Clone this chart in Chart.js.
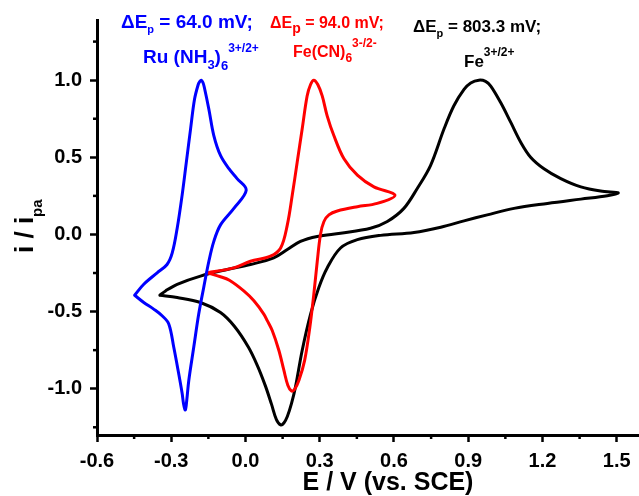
<!DOCTYPE html>
<html>
<head>
<meta charset="utf-8">
<title>Cyclic voltammograms</title>
<script src="https://cdn.jsdelivr.net/npm/chart.js@4.4.1/dist/chart.umd.min.js"></script>
<style>
    html, body { margin: 0; padding: 0; background: #fff; }
    canvas { display: block; }
</style>
</head>
<body>
<canvas id="cvChart" width="639" height="496"></canvas>
<script>
"use strict";

/*---------------------------------------------------
  Data (E in V vs. SCE, current normalised to i_pa)
---------------------------------------------------*/

// Ru(NH3)6 3+/2+  (loop starts at the negative vertex)
var ruE = [-0.448, -0.411, -0.357, -0.317, -0.296, -0.276, -0.256, -0.239, -0.222, -0.206, -0.191, -0.185, -0.179,
    -0.172, -0.166, -0.148, -0.128, -0.101, -0.067, -0.034, 0.003, -0.047, -0.101, -0.128, -0.148, -0.169, -0.189,
    -0.209, -0.229, -0.237, -0.243, -0.250, -0.256, -0.270, -0.290, -0.310, -0.337, -0.371, -0.411, -0.448];
var ruI = [-0.394, -0.323, -0.249, -0.195, -0.120, 0.040, 0.255, 0.469, 0.683, 0.876, 0.972, 0.990, 1.000,
    0.985, 0.951, 0.812, 0.641, 0.512, 0.426, 0.362, 0.287, 0.169, 0.062, -0.045, -0.174, -0.345, -0.516,
    -0.730, -0.945, -1.070, -1.138, -1.100, -1.030, -0.902, -0.730, -0.580, -0.527, -0.484, -0.441, -0.394];

// Fe(CN)6 3-/2-
var fcnE = [-0.155, -0.047, 0.020, 0.101, 0.142, 0.169, 0.189, 0.209, 0.229, 0.249, 0.263, 0.276, 0.292,
    0.310, 0.330, 0.357, 0.398, 0.452, 0.519, 0.604, 0.532, 0.452, 0.371, 0.337, 0.317, 0.303, 0.290,
    0.276, 0.260, 0.239, 0.216, 0.198, 0.186, 0.171, 0.155, 0.135, 0.108, 0.088, 0.074, 0.034, -0.007,
    -0.065, -0.101, -0.155];
var fcnI = [-0.249, -0.217, -0.174, -0.141, -0.088, 0.062, 0.255, 0.469, 0.683, 0.898, 0.972, 1.000, 0.972,
    0.898, 0.769, 0.641, 0.490, 0.384, 0.308, 0.255, 0.201, 0.180, 0.152, 0.127, 0.084, 0.000, -0.174,
    -0.388, -0.602, -0.816, -0.945, -1.005, -1.015, -0.977, -0.880, -0.752, -0.623, -0.559, -0.516, -0.430, -0.366,
    -0.297, -0.274, -0.249];

// Fe 3+/2+
var feE = [-0.346, -0.323, -0.276, -0.182, -0.074, 0.020, 0.114, 0.169, 0.222, 0.290, 0.384, 0.505, 0.573,
    0.640, 0.694, 0.748, 0.802, 0.842, 0.883, 0.910, 0.943, 0.970, 0.991, 1.031, 1.072, 1.112, 1.152, 1.206, 1.274,
    1.355, 1.435, 1.506, 1.462, 1.355, 1.220, 1.085, 0.977, 0.883, 0.789, 0.681, 0.546, 0.452, 0.384,
    0.330, 0.296, 0.263, 0.229, 0.202, 0.186, 0.169, 0.155, 0.142, 0.125, 0.105, 0.080, 0.048, 0.012,
    -0.045, -0.101, -0.182, -0.276, -0.346];
var feI = [-0.394, -0.366, -0.323, -0.270, -0.227, -0.195, -0.152, -0.098, -0.045, -0.013, 0.008, 0.040, 0.084,
    0.169, 0.298, 0.448, 0.683, 0.834, 0.940, 0.982, 1.000, 0.992, 0.962, 0.855, 0.726, 0.598, 0.501, 0.426, 0.362,
    0.308, 0.281, 0.270, 0.251, 0.229, 0.201, 0.169, 0.127, 0.088, 0.047, 0.013, -0.006, -0.034, -0.088,
    -0.217, -0.345, -0.516, -0.752, -0.988, -1.095, -1.180, -1.222, -1.234, -1.200, -1.100, -0.980, -0.850,
    -0.731, -0.595, -0.506, -0.441, -0.409, -0.394];

var xTicks = [-0.6, -0.3, 0.0, 0.3, 0.6, 0.9, 1.2, 1.5];
var xMinorTicks = [-0.45, -0.15, 0.15, 0.45, 0.75, 1.05, 1.35];
var yTicks = [-1.0, -0.5, 0.0, 0.5, 1.0];
var yMinorTicks = [-1.25, -0.75, -0.25, 0.25, 0.75, 1.25];

/*---------------------------------------------------
  Helpers
---------------------------------------------------*/

var FONT = '"Liberation Sans", Arial, Helvetica, sans-serif';

function toPoints(xs, ys) {
    return xs.map(function (x, i) { return { x: x, y: ys[i] }; });
}

// draw a run of text pieces: [text, size, baseline shift]
function drawRuns(ctx, x, y, runs, color) {
    ctx.fillStyle = color;
    ctx.textAlign = 'left';
    ctx.textBaseline = 'alphabetic';
    runs.forEach(function (r) {
        ctx.font = 'bold ' + r[1] + 'px ' + FONT;
        ctx.fillText(r[0], x, y + (r[2] || 0));
        x += ctx.measureText(r[0]).width;
    });
}

var notes = [
    { x: 121, y: 28, color: '#0000ff', runs: [['\u0394E', 19], ['p', 11, 5], [' = 64.0 mV;', 19]] },
    { x: 143, y: 63, color: '#0000ff', runs: [['Ru (NH', 19], ['3', 13, 6], [')', 19], ['6', 13, 7], ['3+/2+', 12, -11]] },
    { x: 270, y: 28, color: '#ff0000', runs: [['\u0394E', 16], ['p', 14, 5], [' = 94.0 mV;', 16]] },
    { x: 293, y: 57, color: '#ff0000', runs: [['Fe(CN)', 16], ['6', 12, 5], ['3-/2-', 12, -10]] },
    { x: 413, y: 32, color: '#000000', runs: [['\u0394E', 17], ['p', 11, 5], [' = 803.3 mV;', 17]] },
    { x: 464, y: 67, color: '#000000', runs: [['Fe', 17], ['3+/2+', 12, -11]] }
];

/*---------------------------------------------------
  Plugin: minor ticks, axis titles, labels
---------------------------------------------------*/

var decorPlugin = {
    id: 'decor',
    afterDraw: function (chart) {
        var ctx = chart.ctx;
        var area = chart.chartArea;
        var xs = chart.scales.x;
        var ys = chart.scales.y;

        ctx.save();
        ctx.strokeStyle = '#000';
        ctx.lineWidth = 2.5;
        xMinorTicks.forEach(function (v) {
            var px = xs.getPixelForValue(v);
            ctx.beginPath();
            ctx.moveTo(px, area.bottom);
            ctx.lineTo(px, area.bottom + 4);
            ctx.stroke();
        });
        yMinorTicks.forEach(function (v) {
            var py = ys.getPixelForValue(v);
            ctx.beginPath();
            ctx.moveTo(area.left, py);
            ctx.lineTo(area.left - 4, py);
            ctx.stroke();
        });

        // x title
        ctx.fillStyle = '#000';
        ctx.font = 'bold 25px ' + FONT;
        ctx.textAlign = 'center';
        ctx.textBaseline = 'alphabetic';
        ctx.fillText('E / V (vs. SCE)', 388, 490);

        // y title (rotated)
        ctx.save();
        ctx.translate(33, 253);
        ctx.rotate(-Math.PI / 2);
        drawRuns(ctx, 0, 0, [['i / i', 26], ['pa', 15, 9]], '#000');
        ctx.restore();

        notes.forEach(function (n) {
            drawRuns(ctx, n.x, n.y, n.runs, n.color);
        });
        ctx.restore();
    }
};

/*---------------------------------------------------
  Chart
---------------------------------------------------*/

var tickFont = { family: FONT, size: 20, weight: 'bold' };

function lineSet(label, xs, ys, color) {
    return {
        label: label,
        data: toPoints(xs, ys),
        showLine: true,
        borderColor: color,
        backgroundColor: color,
        borderWidth: 3,
        borderJoinStyle: 'round',
        borderCapStyle: 'round',
        pointRadius: 0,
        tension: 0.35,
        fill: false
    };
}

var cvChart = new Chart(document.getElementById('cvChart'), {
    type: 'scatter',
    data: {
        datasets: [
            lineSet('Ru(NH3)6', ruE, ruI, '#0000ff'),
            lineSet('Fe(CN)6', fcnE, fcnI, '#ff0000'),
            lineSet('Fe', feE, feI, '#000000')
        ]
    },
    options: {
        responsive: false,
        animation: false,
        layout: { padding: { top: 17, left: 0, right: 0, bottom: 0 } },
        plugins: {
            legend: { display: false },
            tooltip: { enabled: false }
        },
        scales: {
            x: {
                type: 'linear',
                min: -0.6,
                max: 1.59,
                afterBuildTicks: function (scale) {
                    scale.ticks = xTicks.map(function (v) { return { value: v }; });
                },
                afterFit: function (scale) { scale.height = 61; },
                ticks: {
                    font: tickFont,
                    color: '#000',
                    padding: 7,
                    maxRotation: 0,
                    autoSkip: false,
                    callback: function (v) { return Number(v).toFixed(1); }
                },
                grid: { drawOnChartArea: false, tickLength: 7, tickWidth: 2.5, tickColor: '#000' },
                border: { color: '#000', width: 3 }
            },
            y: {
                type: 'linear',
                min: -1.3,
                max: 1.39,
                afterBuildTicks: function (scale) {
                    scale.ticks = yTicks.map(function (v) { return { value: v }; });
                },
                afterFit: function (scale) { scale.width = 97; },
                ticks: {
                    font: tickFont,
                    color: '#000',
                    padding: 8,
                    autoSkip: false,
                    callback: function (v) { return Number(v).toFixed(1); }
                },
                grid: { drawOnChartArea: false, tickLength: 7, tickWidth: 2.5, tickColor: '#000' },
                border: { color: '#000', width: 3 }
            }
        }
    },
    plugins: [decorPlugin]
});
</script>
</body>
</html>
